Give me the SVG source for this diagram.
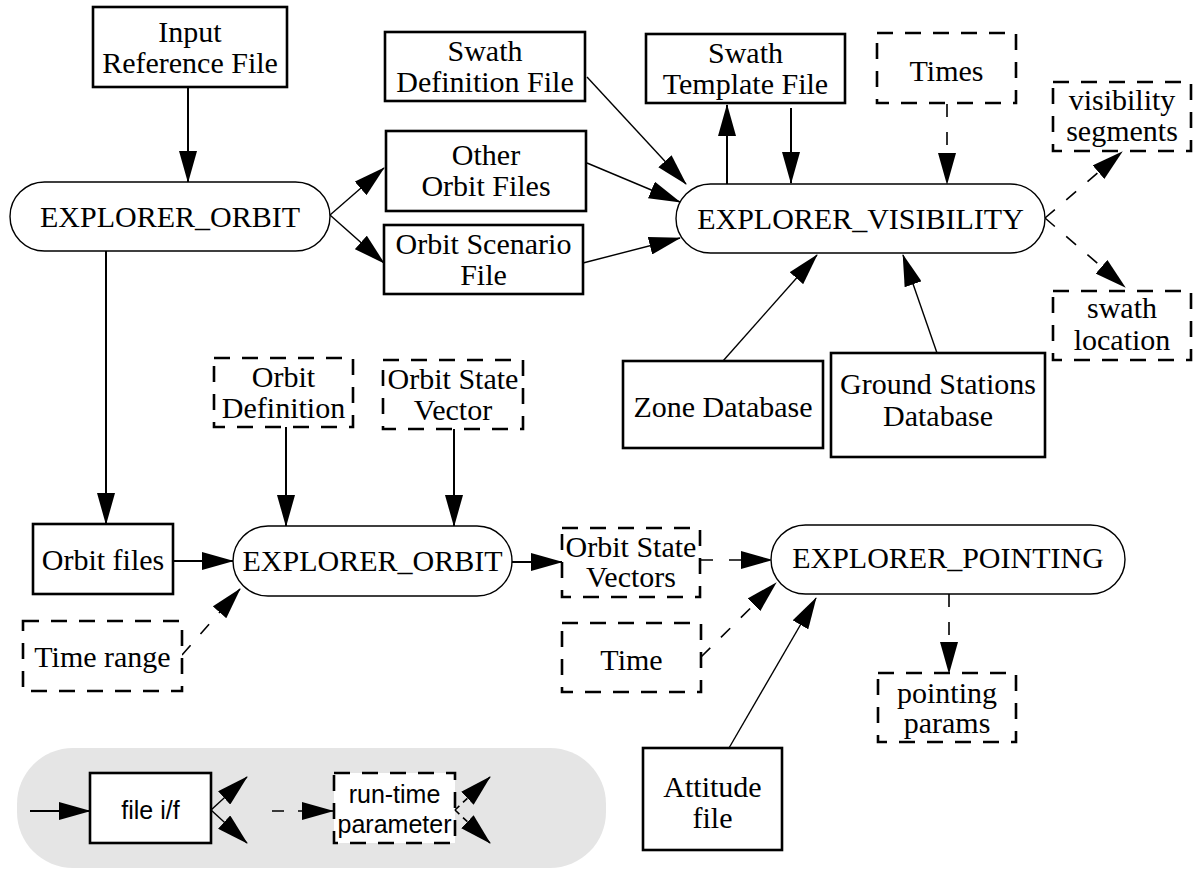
<svg xmlns="http://www.w3.org/2000/svg" width="1194" height="869" viewBox="0 0 1194 869">
<style>
  .t { font-family: "Liberation Serif", "Times New Roman", serif; font-size: 30px; fill: #000; text-anchor: middle; }
  .s { font-family: "Liberation Sans", Arial, sans-serif; font-size: 25px; fill: #000; text-anchor: middle; }
  .box { fill: #fff; stroke: #000; stroke-width: 2.6; }
  .dbox { fill: #fff; stroke: #000; stroke-width: 2.6; stroke-dasharray: 16 12; }
  .proc { fill: #fff; stroke: #000; stroke-width: 1.4; }
  .c { fill: none; stroke: #000; stroke-width: 2; marker-end: url(#ah); }
  .ct { fill: none; stroke: #000; stroke-width: 1.4; marker-end: url(#ah); }
  .cd { fill: none; stroke: #000; stroke-width: 1.6; stroke-dasharray: 13 15; marker-end: url(#ah); }
</style>
<defs>
  <marker id="ah" markerUnits="userSpaceOnUse" markerWidth="32" markerHeight="18" refX="31" refY="9" orient="auto" viewBox="0 0 32 18">
    <path d="M0,0 L32,9 L0,18 z" fill="#000"/>
  </marker>
</defs>
<rect width="1194" height="869" fill="#fff"/>

<g id="legend">
  <rect x="17" y="748" width="589" height="120" rx="56" ry="56" fill="#e5e5e5"/>
  <rect class="box" x="90" y="773" width="121" height="70"/>
  <text class="s" x="150.5" y="819">file i/f</text>
  <rect class="dbox" x="334" y="773" width="121" height="70"/>
  <text class="s" x="394.5" y="803">run-time</text>
  <text class="s" x="394.5" y="833">parameter</text>
  <line class="c" x1="30" y1="811" x2="90" y2="811"/>
  <line class="ct" x1="211" y1="810" x2="247" y2="777"/>
  <line class="ct" x1="211" y1="810" x2="247" y2="843"/>
  <line class="cd" x1="272" y1="811" x2="333" y2="811" style="stroke-dasharray: 12 14"/>
  <line class="cd" x1="455" y1="810" x2="490" y2="777" style="stroke-dasharray: 6 5"/>
  <line class="cd" x1="455" y1="810" x2="490" y2="843" style="stroke-dasharray: 6 5"/>
</g>

<g id="connectors">
  <line class="c" x1="188" y1="87" x2="188" y2="182"/>
  <line class="ct" x1="330" y1="215" x2="384" y2="168"/>
  <line class="ct" x1="330" y1="215" x2="384" y2="263"/>
  <line class="ct" x1="587" y1="77" x2="686" y2="184"/>
  <line class="ct" x1="587" y1="163" x2="680" y2="202"/>
  <line class="ct" x1="583" y1="263" x2="680" y2="238"/>
  <line class="c" x1="727" y1="184" x2="727" y2="105"/>
  <line class="c" x1="791" y1="108" x2="791" y2="183"/>
  <line class="cd" x1="947" y1="104" x2="947" y2="184"/>
  <line class="cd" x1="1045" y1="218" x2="1122" y2="152"/>
  <line class="cd" x1="1045" y1="218" x2="1125" y2="287"/>
  <line class="ct" x1="723" y1="361" x2="817" y2="255"/>
  <line class="ct" x1="937" y1="353" x2="903" y2="255"/>
  <line class="c" x1="106" y1="251" x2="106" y2="524"/>
  <line class="c" x1="286" y1="427" x2="286" y2="526"/>
  <line class="c" x1="454" y1="429" x2="454" y2="526"/>
  <line class="c" x1="173" y1="561" x2="233" y2="561"/>
  <line class="cd" x1="182" y1="655" x2="240" y2="589"/>
  <line class="c" x1="512" y1="562" x2="562" y2="562"/>
  <line class="cd" x1="701" y1="560" x2="772" y2="560" style="stroke-dasharray: 12 16"/>
  <line class="cd" x1="701" y1="657" x2="776" y2="583"/>
  <line class="ct" x1="729" y1="748" x2="816" y2="598"/>
  <line class="cd" x1="949" y1="594" x2="949" y2="673"/>
</g>

<g id="input_reference_file">
  <rect class="box" x="93" y="7" width="194" height="80"/>
  <text class="t" x="190" y="42">Input</text>
  <text class="t" x="190" y="73">Reference File</text>
</g>
<g id="explorer_orbit_top">
  <rect class="proc" x="10" y="182" width="320" height="69" rx="34.5" ry="34.5"/>
  <text class="t" x="170" y="227">EXPLORER_ORBIT</text>
</g>
<g id="swath_definition_file">
  <rect class="box" x="385" y="32" width="200" height="69"/>
  <text class="t" x="485" y="61">Swath</text>
  <text class="t" x="485" y="92">Definition File</text>
</g>
<g id="other_orbit_files">
  <rect class="box" x="386" y="131" width="200" height="80"/>
  <text class="t" x="486" y="165">Other</text>
  <text class="t" x="486" y="196">Orbit Files</text>
</g>
<g id="orbit_scenario_file">
  <rect class="box" x="384" y="225" width="199" height="69"/>
  <text class="t" x="483.5" y="254">Orbit Scenario</text>
  <text class="t" x="483.5" y="285">File</text>
</g>
<g id="swath_template_file">
  <rect class="box" x="646" y="34" width="199" height="69"/>
  <text class="t" x="745.5" y="63">Swath</text>
  <text class="t" x="745.5" y="94">Template File</text>
</g>
<g id="times">
  <rect class="dbox" x="877" y="33" width="139" height="70"/>
  <text class="t" x="946.5" y="81">Times</text>
</g>
<g id="visibility_segments">
  <rect class="dbox" x="1053" y="82" width="138" height="69"/>
  <text class="t" x="1122" y="110">visibility</text>
  <text class="t" x="1122" y="141">segments</text>
</g>
<g id="swath_location">
  <rect class="dbox" x="1053" y="291" width="138" height="69"/>
  <text class="t" x="1122" y="318">swath</text>
  <text class="t" x="1122" y="350">location</text>
</g>
<g id="explorer_visibility">
  <rect class="proc" x="676" y="184" width="369" height="69" rx="34.5" ry="34.5"/>
  <text class="t" x="860.5" y="229">EXPLORER_VISIBILITY</text>
</g>
<g id="zone_database">
  <rect class="box" x="623" y="361" width="200" height="87"/>
  <text class="t" x="723" y="417">Zone Database</text>
</g>
<g id="ground_stations_database">
  <rect class="box" x="831" y="353" width="214" height="104"/>
  <text class="t" x="938" y="394">Ground Stations</text>
  <text class="t" x="938" y="426">Database</text>
</g>
<g id="orbit_definition">
  <rect class="dbox" x="214" y="358" width="139" height="69"/>
  <text class="t" x="283.5" y="387">Orbit</text>
  <text class="t" x="283.5" y="418">Definition</text>
</g>
<g id="orbit_state_vector">
  <rect class="dbox" x="383" y="360" width="140" height="69"/>
  <text class="t" x="453" y="389">Orbit State</text>
  <text class="t" x="453" y="420">Vector</text>
</g>
<g id="orbit_files">
  <rect class="box" x="33" y="524" width="140" height="70"/>
  <text class="t" x="103" y="570">Orbit files</text>
</g>
<g id="explorer_orbit_mid">
  <rect class="proc" x="233" y="526" width="279" height="70" rx="35" ry="35"/>
  <text class="t" x="372.5" y="571">EXPLORER_ORBIT</text>
</g>
<g id="time_range">
  <rect class="dbox" x="23" y="621" width="159" height="70"/>
  <text class="t" x="102.5" y="667">Time range</text>
</g>
<g id="orbit_state_vectors">
  <rect class="dbox" x="562" y="528" width="138" height="69"/>
  <text class="t" x="631" y="557">Orbit State</text>
  <text class="t" x="631" y="587">Vectors</text>
</g>
<g id="time">
  <rect class="dbox" x="562" y="623" width="139" height="69"/>
  <text class="t" x="631.5" y="670">Time</text>
</g>
<g id="explorer_pointing">
  <rect class="proc" x="771" y="525" width="354" height="69" rx="34.5" ry="34.5"/>
  <text class="t" x="948" y="568">EXPLORER_POINTING</text>
</g>
<g id="pointing_params">
  <rect class="dbox" x="878" y="673" width="138" height="69"/>
  <text class="t" x="947" y="703">pointing</text>
  <text class="t" x="947" y="733">params</text>
</g>
<g id="attitude_file">
  <rect class="box" x="643" y="748" width="139" height="102"/>
  <text class="t" x="712.5" y="797">Attitude</text>
  <text class="t" x="712.5" y="828">file</text>
</g>
</svg>
